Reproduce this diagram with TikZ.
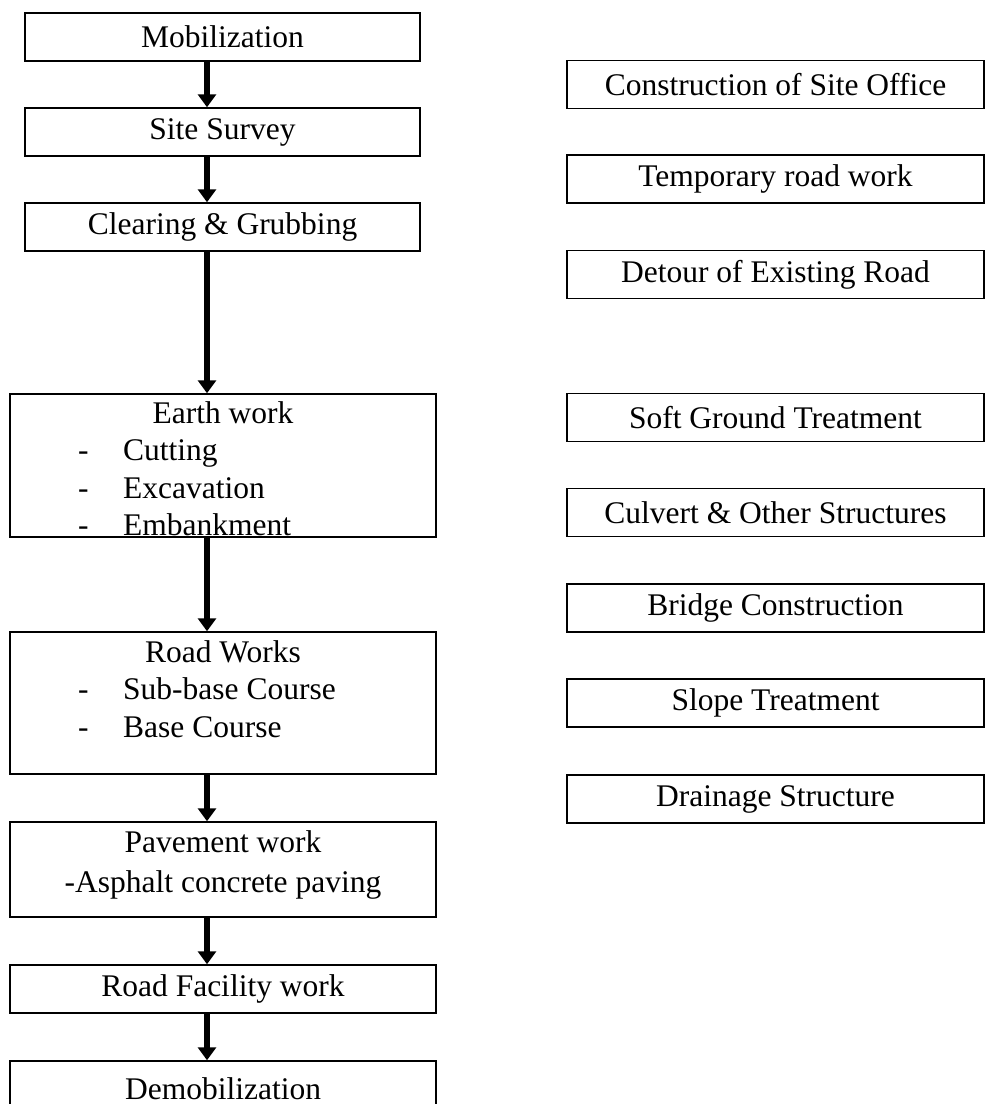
\documentclass[tikz,border=0pt]{standalone}
\usepackage{fontspec}
\setmainfont{Liberation Serif}
\usetikzlibrary{arrows.meta}
\begin{document}
\begin{tikzpicture}[x=1pt,y=-1pt,
  box/.style={draw=black,line width=1.5pt,inner sep=0pt,font=\fontsize{31.5}{37.5}\selectfont},
  lbox/.style={box,minimum width=395pt,minimum height=48pt},
  wbox/.style={box,minimum width=426pt},
  rbox/.style={box,minimum width=417pt,minimum height=48pt},
  txt/.style={inner sep=0pt,anchor=base,font=\fontsize{31.5}{37.5}\selectfont},
  itm/.style={txt,anchor=base west},
  flow/.style={line width=5.5pt,-{Triangle[width=18pt,length=13pt]}}]
\clip (0,0) rectangle (985,1104);
\fill[white] (0,0) rectangle (985,1104);
\coordinate (ax) at (207,0);
% left column
\node[lbox] (mob) at (222.5,37) {Mobilization};
\node[lbox] (survey) at (222.5,132) {Site Survey};
\node[lbox] (clear) at (222.5,227) {Clearing \& Grubbing};
\node[wbox,minimum height=143pt] (earth) at (223,465.5) {};
\node[txt] (earthT) at (223,423) {Earth work};
\node[itm] (d1) at (78,460) {-};
\node[itm] (e1) at (123,460) {Cutting};
\node[itm] (d2) at (78,498) {-};
\node[itm] (e2) at (123,498) {Excavation};
\node[itm] (d3) at (78,535) {-};
\node[itm] (e3) at (123,535) {Embankment};
\node[wbox,minimum height=142pt] (road) at (223,703) {};
\node[txt] (roadT) at (223,662) {Road Works};
\node[itm] (d4) at (78,699) {-};
\node[itm] (r1) at (123,699) {Sub-base Course};
\node[itm] (d5) at (78,737) {-};
\node[itm] (r2) at (123,737) {Base Course};
\node[wbox,minimum height=95pt] (pave) at (223,869.5) {};
\node[txt] (paveT) at (223,852) {Pavement work};
\node[txt] (paveS) at (223,892) {-Asphalt concrete paving};
\node[wbox,minimum height=48pt] (fac) at (223,989) {Road Facility work};
\node[wbox,minimum height=64pt] (demob) at (223,1093) {};
\node[txt] (demobT) at (223,1099) {Demobilization};
% arrows
\draw[flow] (mob.south -| ax) -- (survey.north -| ax);
\draw[flow] (survey.south -| ax) -- (clear.north -| ax);
\draw[flow] (clear.south -| ax) -- (earth.north -| ax);
\draw[flow] (earth.south -| ax) -- (road.north -| ax);
\draw[flow] (road.south -| ax) -- (pave.north -| ax);
\draw[flow] (pave.south -| ax) -- (fac.north -| ax);
\draw[flow] (fac.south -| ax) -- (demob.north -| ax);
% right column
\node[rbox] (office) at (775.5,84.5) {Construction of Site Office};
\node[rbox] (temp) at (775.5,179) {Temporary road work};
\node[rbox] (detour) at (775.5,274.5) {Detour of Existing Road};
\node[rbox] (soft) at (775.5,417.5) {Soft Ground Treatment};
\node[rbox] (culvert) at (775.5,512.5) {Culvert \& Other Structures};
\node[rbox] (bridge) at (775.5,608) {Bridge Construction};
\node[rbox] (slope) at (775.5,703) {Slope Treatment};
\node[rbox] (drain) at (775.5,799) {Drainage Structure};
\end{tikzpicture}
\end{document}
